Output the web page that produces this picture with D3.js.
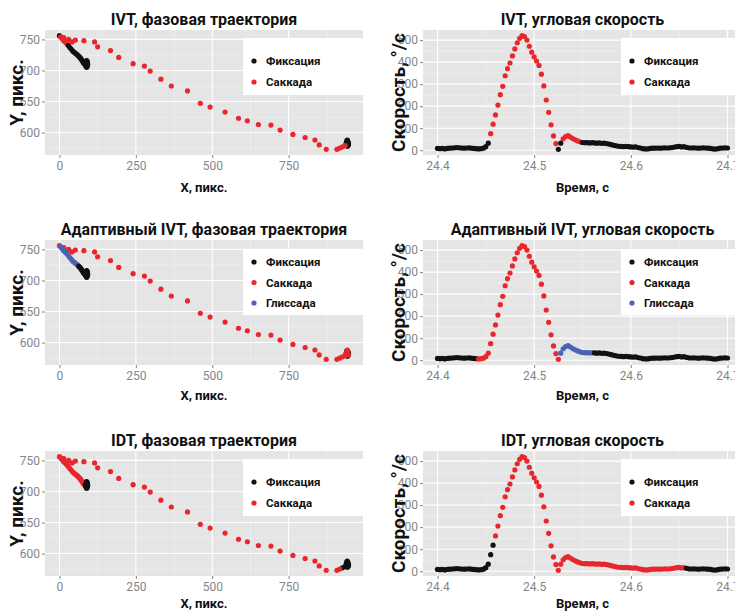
<!DOCTYPE html>
<html>
<head>
<meta charset="utf-8">
<script src="https://cdn.jsdelivr.net/npm/d3@7"></script>
<style>
  body { margin: 0; background: #fff; }
  svg { display: block; font-family: "Roboto", "Liberation Sans", sans-serif; }
  .tick text { fill: #858585; font-size: 12px; font-family: "Liberation Sans Narrow", "Roboto", sans-serif; }
  .tick line { stroke: #858585; }
  .title { font-size: 16px; font-weight: bold; fill: #111; }
  .xtitle { font-size: 13px; font-weight: bold; fill: #111; }
  .ytitle { font-size: 19px; font-weight: bold; fill: #111; }
  .legend text { font-size: 11.5px; font-weight: bold; fill: #111; }
</style>
</head>
<body>
<svg id="chart" width="735" height="612"></svg>
<script>
// Eye-movement classification: phase trajectory (X/Y, px) and angular speed
// over time, for three detection algorithms (IVT, adaptive IVT, IDT).

const CLASS_NAMES = ["Фиксация", "Саккада", "Глиссада"];
const CLASS_COLORS = ["#111111", "#e8262b", "#4a63b6"];

// --- Phase trajectory samples (gaze position, px) ---
// first fixation (right), saccade (right -> left), glissade, drift, second fixation
const trajX = [
    941, 944, 940, 943, 946, 939, 942, 945, 941, 943, 940, 944, 942, 938, 943, 945, 941, 939, 944, 942,
    935, 926, 917, 908,
    873, 850, 836, 804, 764, 722, 692, 651, 615, 586, 542, 493, 461, 419, 366, 332, 297, 278, 241, 194,
    167, 125, 115, 80, 52, 41, 30, 14,
    0,
    4, 9, 14, 19, 24, 29, 34, 39, 44, 49, 54, 59,
    63, 67, 70, 73, 76, 78, 80, 82, 84, 85, 86, 87,
    88, 90, 87, 91, 89, 92, 86, 90, 88, 91, 89, 87, 90, 92, 88, 89, 91, 87, 90, 88,
    89, 92, 90, 87, 91, 89, 88, 90, 86, 91,
];
const trajY = [
    583, 585, 580, 586, 582, 584, 578, 583, 587, 581, 584, 579, 586, 582, 584, 580, 585, 583, 581, 588,
    579, 577, 575, 573,
    573, 580, 588, 592, 597, 604, 612, 613, 619, 623, 633, 641, 647, 667, 675, 686, 699, 707, 711, 721,
    732, 738, 746, 748, 749, 746, 750, 753,
    756,
    754, 751, 748, 746, 743, 740, 737, 734, 731, 729, 727, 725,
    723, 721, 719, 717, 715, 713, 712, 711, 710, 709, 708, 707,
    710, 708, 712, 711, 714, 709, 711, 706, 713, 710, 707, 712, 715, 711, 709, 716, 713, 708, 710, 712,
    705, 710, 713, 709, 711, 714, 707, 709, 712, 710,
];

// --- Angular speed samples ---
const velTime = [
    24.4, 24.4025, 24.405, 24.4075, 24.41, 24.4125, 24.415, 24.4175, 24.42, 24.4225,
    24.425, 24.4275, 24.43, 24.4325, 24.435, 24.4375, 24.44, 24.4425, 24.445, 24.4475,
    24.45, 24.4525, 24.455, 24.4575, 24.46, 24.4625, 24.465, 24.4675, 24.47, 24.4725,
    24.475, 24.4775, 24.48, 24.4825, 24.485, 24.4875, 24.49, 24.4925, 24.495, 24.4975,
    24.5, 24.5025, 24.505, 24.5075, 24.51, 24.5125, 24.515, 24.5175, 24.52, 24.5225,
    24.525, 24.5275, 24.53, 24.5325, 24.535, 24.5375, 24.54, 24.5425, 24.545, 24.5475,
    24.55, 24.5525, 24.555, 24.5575, 24.56, 24.5625, 24.565, 24.5675, 24.57, 24.5725,
    24.575, 24.5775, 24.58, 24.5825, 24.585, 24.5875, 24.59, 24.5925, 24.595, 24.5975,
    24.6, 24.6025, 24.605, 24.6075, 24.61, 24.6125, 24.615, 24.6175, 24.62, 24.6225,
    24.625, 24.6275, 24.63, 24.6325, 24.635, 24.6375, 24.64, 24.6425, 24.645, 24.6475,
    24.65, 24.6525, 24.655, 24.6575, 24.66, 24.6625, 24.665, 24.6675, 24.67, 24.6725,
    24.675, 24.6775, 24.68, 24.6825, 24.685, 24.6875, 24.69, 24.6925, 24.695, 24.6975,
    24.7,
];
const velSpeed = [
    8, 7, 8, 6, 8, 9, 10, 11, 12, 11, 10, 9, 10, 11, 9, 8, 7, 6, 7, 9,
    16, 32, 75, 118, 160, 205, 252, 290, 338, 370,
    396, 428, 460, 488, 508, 520, 516, 500, 472, 445,
    424, 405, 385, 345, 292, 228, 172, 115, 65, 30,
    4, 32, 52, 62, 66, 60, 53, 47, 42, 38,
    35, 34, 34, 33, 34, 33, 32, 33, 31, 32,
    30, 28, 25, 22, 20, 18, 17, 16, 17, 16,
    15, 14, 15, 12, 10, 7, 6, 6, 8, 9,
    9, 10, 9, 10, 11, 10, 11, 12, 14, 16,
    17, 15, 16, 13, 11, 10, 11, 10, 9, 10,
    11, 10, 9, 8, 6, 5, 7, 9, 10, 11,
    10,
];

// Detected events: [first sample, last sample, class]; anything else is a fixation.
const ivtTrajEvents = [[20, 51, 1], [53, 57, 1]];
const ivtVelEvents = [[22, 49, 1], [52, 59, 1]];
const adaptiveTrajEvents = [[14, 52, 1], [53, 64, 2]];
const adaptiveVelEvents = [[17, 50, 1], [51, 64, 2]];
const idtTrajEvents = [[22, 76, 1]];
const idtVelEvents = [[24, 102, 1]];

// Axis breaks
const trajXTicks = [0, 250, 500, 750];
const trajXMinor = [125, 375, 625, 875];
const trajYTicks = [600, 650, 700, 750];
const trajYMinor = [575, 625, 675, 725];
const velXTicks = [24.4, 24.5, 24.6, 24.7];
const velXMinor = [24.45, 24.55, 24.65];
const velYTicks = [0, 100, 200, 300, 400, 500];
const velYMinor = [50, 150, 250, 350, 450];

// Layout (px)
const COL_X = [45, 423];
const COL_W = [318, 319];
const ROW_TOP = [30, 240, 451];
const PANEL_H = 125;
const XTITLE_OFFSET = [37, 35, 32];
const YTITLE_OFFSET = [29, 25];
const POINT_R = 2.6;

const svg = d3.select("#chart");

// ggplot-style 5% expansion of the data range
function expanded(values) {
    const [lo, hi] = d3.extent(values);
    const pad = (hi - lo) * 0.05;
    return [lo - pad, hi + pad];
}

function classify(n, events) {
    const cls = new Array(n).fill(0);
    events.forEach(([a, b, k]) => {
        for (let i = a; i <= b; i++) cls[i] = k;
    });
    return cls;
}

function drawPanel(cfg) {
    const { col, row } = cfg;
    const x0 = COL_X[col], w = COL_W[col], y0 = ROW_TOP[row];
    const g = svg.append("g");

    const x = d3.scaleLinear().domain(cfg.xDomain).range([x0, x0 + w]);
    const y = d3.scaleLinear().domain(cfg.yDomain).range([y0 + PANEL_H, y0]);

    g.append("rect")
        .attr("x", x0).attr("y", y0)
        .attr("width", w).attr("height", PANEL_H)
        .attr("fill", "#e5e5e5");

    // grid: minor first, then major
    g.selectAll("line.vminor").data(cfg.xMinor).join("line")
        .attr("x1", x).attr("x2", x).attr("y1", y0).attr("y2", y0 + PANEL_H)
        .attr("stroke", "#f2f2f2").attr("stroke-width", 0.6);
    g.selectAll("line.hminor").data(cfg.yMinor).join("line")
        .attr("y1", y).attr("y2", y).attr("x1", x0).attr("x2", x0 + w)
        .attr("stroke", "#f2f2f2").attr("stroke-width", 0.6);
    g.selectAll("line.vmajor").data(cfg.xTicks).join("line")
        .attr("x1", x).attr("x2", x).attr("y1", y0).attr("y2", y0 + PANEL_H)
        .attr("stroke", "#fff").attr("stroke-width", 1.1);
    g.selectAll("line.hmajor").data(cfg.yTicks).join("line")
        .attr("y1", y).attr("y2", y).attr("x1", x0).attr("x2", x0 + w)
        .attr("stroke", "#fff").attr("stroke-width", 1.1);

    // points, drawn in sample order
    g.append("g").selectAll("circle").data(cfg.points).join("circle")
        .attr("cx", (d) => x(d.x))
        .attr("cy", (d) => y(d.y))
        .attr("r", POINT_R)
        .attr("fill", (d) => CLASS_COLORS[d.c]);

    const xAxis = g.append("g")
        .attr("transform", `translate(0,${y0 + PANEL_H})`)
        .call(d3.axisBottom(x).tickValues(cfg.xTicks).tickSize(3).tickPadding(3).tickFormat(cfg.xFormat));
    xAxis.select(".domain").remove();

    const yAxis = g.append("g")
        .attr("transform", `translate(${x0},0)`)
        .call(d3.axisLeft(y).tickValues(cfg.yTicks).tickSize(3).tickPadding(2).tickFormat(d3.format("d")));
    yAxis.select(".domain").remove();
    xAxis.attr("font-family", null).attr("font-size", null);
    yAxis.attr("font-family", null).attr("font-size", null);

    // titles
    g.append("text").attr("class", "title")
        .attr("x", x0 + w / 2).attr("y", y0 - 5)
        .attr("text-anchor", "middle")
        .text(cfg.title);
    g.append("text").attr("class", "xtitle")
        .attr("x", x0 + w / 2).attr("y", y0 + PANEL_H + XTITLE_OFFSET[row])
        .attr("text-anchor", "middle")
        .text(cfg.xTitle);
    g.append("text").attr("class", "ytitle")
        .attr("transform", `translate(${x0 - YTITLE_OFFSET[col]},${y0 + PANEL_H / 2}) rotate(-90)`)
        .attr("text-anchor", "middle")
        .attr("dy", "0.35em")
        .text(cfg.yTitle);

    // legend inside the top-right corner of the panel
    const n = cfg.legend.length;
    const boxTop = y0 + (n === 3 ? 9 : 8);
    const boxH = n === 3 ? 66 : 57;
    const firstY = y0 + (n === 3 ? 22 : 31);
    const step = n === 3 ? 20.5 : 21;
    const lx = x0 + 198;
    const lg = g.append("g").attr("class", "legend");
    lg.append("rect")
        .attr("x", lx).attr("y", boxTop)
        .attr("width", x0 + w - lx).attr("height", boxH)
        .attr("fill", "#fff");
    const items = lg.selectAll("g.item").data(cfg.legend).join("g")
        .attr("class", "item")
        .attr("transform", (d, i) => `translate(${lx},${firstY + i * step})`);
    items.append("circle").attr("cx", 11).attr("r", POINT_R).attr("fill", (d) => CLASS_COLORS[d]);
    items.append("text").attr("x", 23).attr("dy", "0.35em").text((d) => CLASS_NAMES[d]);
}

const rows = [
    { name: "IVT", trajEvents: ivtTrajEvents, velEvents: ivtVelEvents, legend: [0, 1] },
    { name: "Адаптивный IVT", trajEvents: adaptiveTrajEvents, velEvents: adaptiveVelEvents, legend: [0, 1, 2] },
    { name: "IDT", trajEvents: idtTrajEvents, velEvents: idtVelEvents, legend: [0, 1] },
];

const trajXDomain = expanded(trajX);
const trajYDomain = expanded(trajY);
const velXDomain = expanded(velTime);
const velYDomain = expanded(velSpeed);

rows.forEach((r, row) => {
    const trajCls = classify(trajX.length, r.trajEvents);
    const velCls = classify(velTime.length, r.velEvents);

    drawPanel({
        col: 0, row,
        xDomain: trajXDomain, yDomain: trajYDomain,
        xTicks: trajXTicks, xMinor: trajXMinor, yTicks: trajYTicks, yMinor: trajYMinor,
        xFormat: d3.format("d"),
        title: `${r.name}, фазовая траектория`,
        xTitle: "X, пикс.", yTitle: "Y, пикс.",
        points: trajX.map((v, i) => ({ x: v, y: trajY[i], c: trajCls[i] })),
        legend: r.legend,
    });

    drawPanel({
        col: 1, row,
        xDomain: velXDomain, yDomain: velYDomain,
        xTicks: velXTicks, xMinor: velXMinor, yTicks: velYTicks, yMinor: velYMinor,
        xFormat: d3.format(".1f"),
        title: `${r.name}, угловая скорость`,
        xTitle: "Время, с", yTitle: "Скорость, °/с",
        points: velTime.map((t, i) => ({ x: t, y: velSpeed[i], c: velCls[i] })),
        legend: r.legend,
    });
});
</script>
</body>
</html>
